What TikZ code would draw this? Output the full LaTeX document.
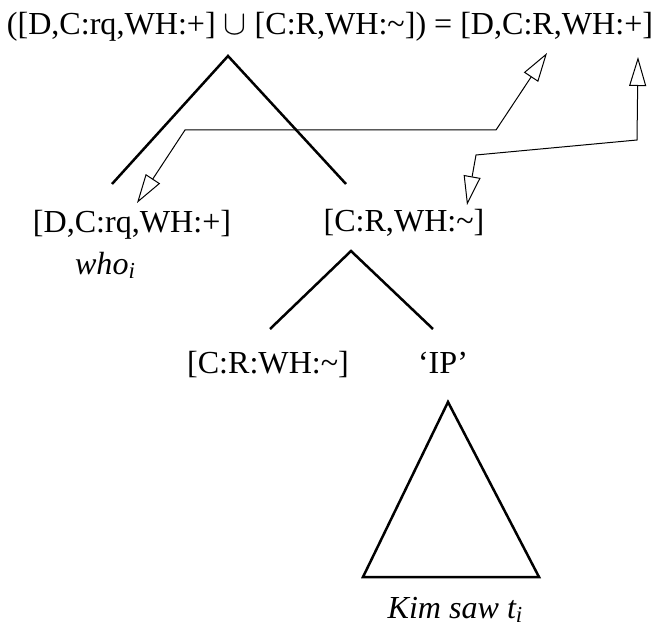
\documentclass[tikz,border=0pt]{standalone}
\usepackage{fontspec}
\setmainfont{Liberation Serif}
\usetikzlibrary{arrows.meta}

\newcommand{\idx}[1]{\raisebox{-0.3ex}{\fontsize{11.5}{12}\selectfont #1}}

\tikzset{
	lbl/.style={anchor=base,inner sep=0pt,font=\fontsize{16.1}{19}\selectfont},
	branch/.style={line width=1.25bp},
	link/.style={line width=0.5bp,
		{Triangle[open,length=14.5bp,width=8.5bp]}-{Triangle[open,length=14.5bp,width=8.5bp]}}
}

\begin{document}
\begin{tikzpicture}[x=0.5bp,y=-0.5bp]
\useasboundingbox (0,0) rectangle (659,635);

\node[lbl] (top) at (330,35) {([D,C:rq,WH:+] $\cup$ [C:R,WH:\textasciitilde]) = [D,C:R,WH:+]};

\node[lbl] (dcrq) at (132,233) {[D,C:rq,WH:+]};
\node[lbl] (who) at (105,274) {\textit{who\idx{i}}};
\node[lbl] (crwh) at (404,232) {[C:R,WH:\textasciitilde]};

\node[lbl] (crcolon) at (268,373) {[C:R:WH:\textasciitilde]};
\node[lbl] (ip) at (443,373) {`IP'};

\node[lbl] (kim) at (455,618) {\textit{Kim saw t\idx{i}}};

% branches
\coordinate (top-apex) at (228,56);
\coordinate (top-l) at (112,184);
\coordinate (top-r) at (346,184);
\draw[branch] (top-l) -- (top-apex) -- (top-r);

\coordinate (cr-apex) at (351,251);
\coordinate (cr-l) at (270,329);
\coordinate (cr-r) at (433,329);
\draw[branch] (cr-l) -- (cr-apex) -- (cr-r);

% triangle
\coordinate (ip-apex) at (448,402);
\coordinate (ip-l) at (363,577);
\coordinate (ip-r) at (539,577);
\draw[branch] (ip-apex) -- (ip-l) -- (ip-r) -- cycle;

% links
\coordinate (d-up) at (547,53);
\coordinate (d-down) at (137,203);
\draw[link] (d-up) -- (496,130) -- (185,130) -- (d-down);

\coordinate (wh-up) at (638,57);
\coordinate (wh-down) at (467,205);
\draw[link] (wh-up) -- (637,140) -- (476,155) -- (wh-down);
\end{tikzpicture}
\end{document}
